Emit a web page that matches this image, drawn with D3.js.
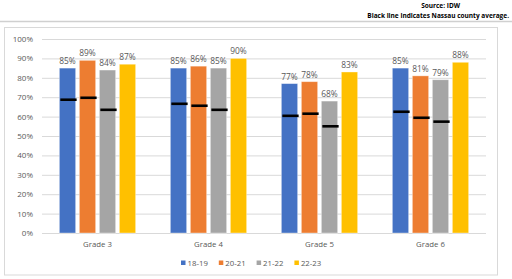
<!DOCTYPE html>
<html>
<head>
<meta charset="utf-8">
<script src="https://cdn.jsdelivr.net/npm/d3@7"></script>
<style>
  body { margin: 0; background: #fff; }
  svg { display: block; font-family: "Open Sans", "Liberation Sans", sans-serif; }
</style>
</head>
<body>
<div id="graph"><svg></svg></div>
<script>
// data
let grades = ["Grade 3", "Grade 4", "Grade 5", "Grade 6"];
let years = ["18-19", "20-21", "21-22", "22-23"];
let colors = ["#4472C4", "#ED7D31", "#A5A5A5", "#FFC000"];
let values = [
  [85, 89, 84, 87],
  [85, 86, 85, 90],
  [77, 78, 68, 83],
  [85, 81, 79, 88]
];
// Nassau county average (black lines), none for 22-23
let nassau = [
  [68.7, 69.7, 63.5, null],
  [66.6, 65.6, 63.5, null],
  [60.4, 61.5, 55.0, null],
  [62.5, 59.4, 57.4, null]
];
let yTicks = [0, 10, 20, 30, 40, 50, 60, 70, 80, 90, 100];

let width = 512, height = 279;
let margins = { top: 39, right: 26, bottom: 46, left: 42 };
let innerWidth = width - margins.left - margins.right;
let innerHeight = height - margins.top - margins.bottom;

let svg = d3.select("div#graph svg").attr("width", width).attr("height", height);

// header notes
svg.append("text")
  .attr("x", 460).attr("y", 8)
  .attr("text-anchor", "end")
  .style("font-size", "6.5px").style("font-weight", "bold").style("fill", "#000")
  .text("Source:  IDW");
svg.append("text")
  .attr("x", 509).attr("y", 18)
  .attr("text-anchor", "end")
  .style("font-size", "6.5px").style("font-weight", "bold").style("fill", "#000")
  .text("Black line  indicates  Nassau county  average.");

// separator and frame
svg.append("line")
  .attr("x1", 0).attr("x2", width).attr("y1", 21.5).attr("y2", 21.5)
  .style("stroke", "#d0d0d0").style("stroke-width", 1.5);
svg.append("rect")
  .attr("x", 4.5).attr("y", 27.5).attr("width", 493).attr("height", 247.5)
  .style("fill", "none").style("stroke", "#d9d9d9");

let g = svg.append("g")
  .attr("transform", "translate(" + margins.left + "," + margins.top + ")");

let yScale = d3.scaleLinear().domain([0, 100]).range([innerHeight, 0]);
let xScale = d3.scaleBand().domain(grades).range([0, innerWidth]);
let xInner = d3.scaleBand().domain(years)
  .range([(xScale.bandwidth() - 80) / 2, (xScale.bandwidth() + 80) / 2])
  .paddingInner(0.185).paddingOuter(0.0925);

// gridlines (drop the empty tick texts)
g.append("g")
  .call(d3.axisLeft(yScale).tickValues(yTicks).tickSize(-innerWidth).tickFormat(""))
  .call(a => a.select(".domain").remove())
  .call(a => a.selectAll("text").remove())
  .selectAll("line").style("stroke", "#d9d9d9");

// y labels
g.append("g")
  .call(d3.axisLeft(yScale).tickValues(yTicks).tickSize(0).tickPadding(9).tickFormat(d => d + "%"))
  .attr("font-size", 8)
  .attr("font-family", "'Open Sans', sans-serif")
  .call(a => a.select(".domain").remove())
  .selectAll("text").attr("fill", "#595959");

// x labels
g.append("g")
  .attr("transform", "translate(0," + innerHeight + ")")
  .call(d3.axisBottom(xScale).tickSize(0).tickPadding(8))
  .attr("font-size", 7.8)
  .attr("font-family", "'Open Sans', sans-serif")
  .call(a => a.select(".domain").remove())
  .selectAll("text").attr("fill", "#595959");

let rows = [];
grades.forEach((gr, i) => years.forEach((yr, j) => {
  rows.push({ grade: gr, year: yr, value: values[i][j], avg: nassau[i][j], color: colors[j] });
}));
let xPos = d => xScale(d.grade) + xInner(d.year);

// bars
g.append("g").selectAll("rect")
  .data(rows).join("rect")
  .attr("x", xPos)
  .attr("width", xInner.bandwidth())
  .attr("y", d => yScale(d.value))
  .attr("height", d => innerHeight - yScale(d.value))
  .style("fill", d => d.color)
  .style("stroke", "#fff").style("stroke-opacity", 0.45).style("stroke-width", 0.8);

// Nassau average lines
g.append("g").selectAll("line")
  .data(rows.filter(d => d.avg != null)).join("line")
  .attr("x1", d => xPos(d) + 1).attr("x2", d => xPos(d) + xInner.bandwidth() + 1)
  .attr("y1", d => yScale(d.avg)).attr("y2", d => yScale(d.avg))
  .style("stroke", "#000").style("stroke-width", 2.6);

// value labels
g.append("g").selectAll("text")
  .data(rows).join("text")
  .attr("x", d => xPos(d) + xInner.bandwidth() / 2)
  .attr("y", d => yScale(d.value) - 4)
  .attr("text-anchor", "middle")
  .style("font-size", "8.4px").style("fill", "#595959")
  .text(d => d.value + "%");

// legend
let legend = svg.append("g").attr("transform", "translate(181,263)");
let item = legend.selectAll("g").data(years).join("g")
  .attr("transform", (d, i) => "translate(" + i * 37.8 + ",0)");
item.append("rect")
  .attr("x", 0).attr("y", -2.5).attr("width", 4.5).attr("height", 4.5)
  .style("fill", (d, i) => colors[i]);
item.append("text")
  .attr("x", 6.5).attr("y", 2.7)
  .style("font-size", "7.8px").style("fill", "#595959")
  .text(d => d);
</script>
</body>
</html>
